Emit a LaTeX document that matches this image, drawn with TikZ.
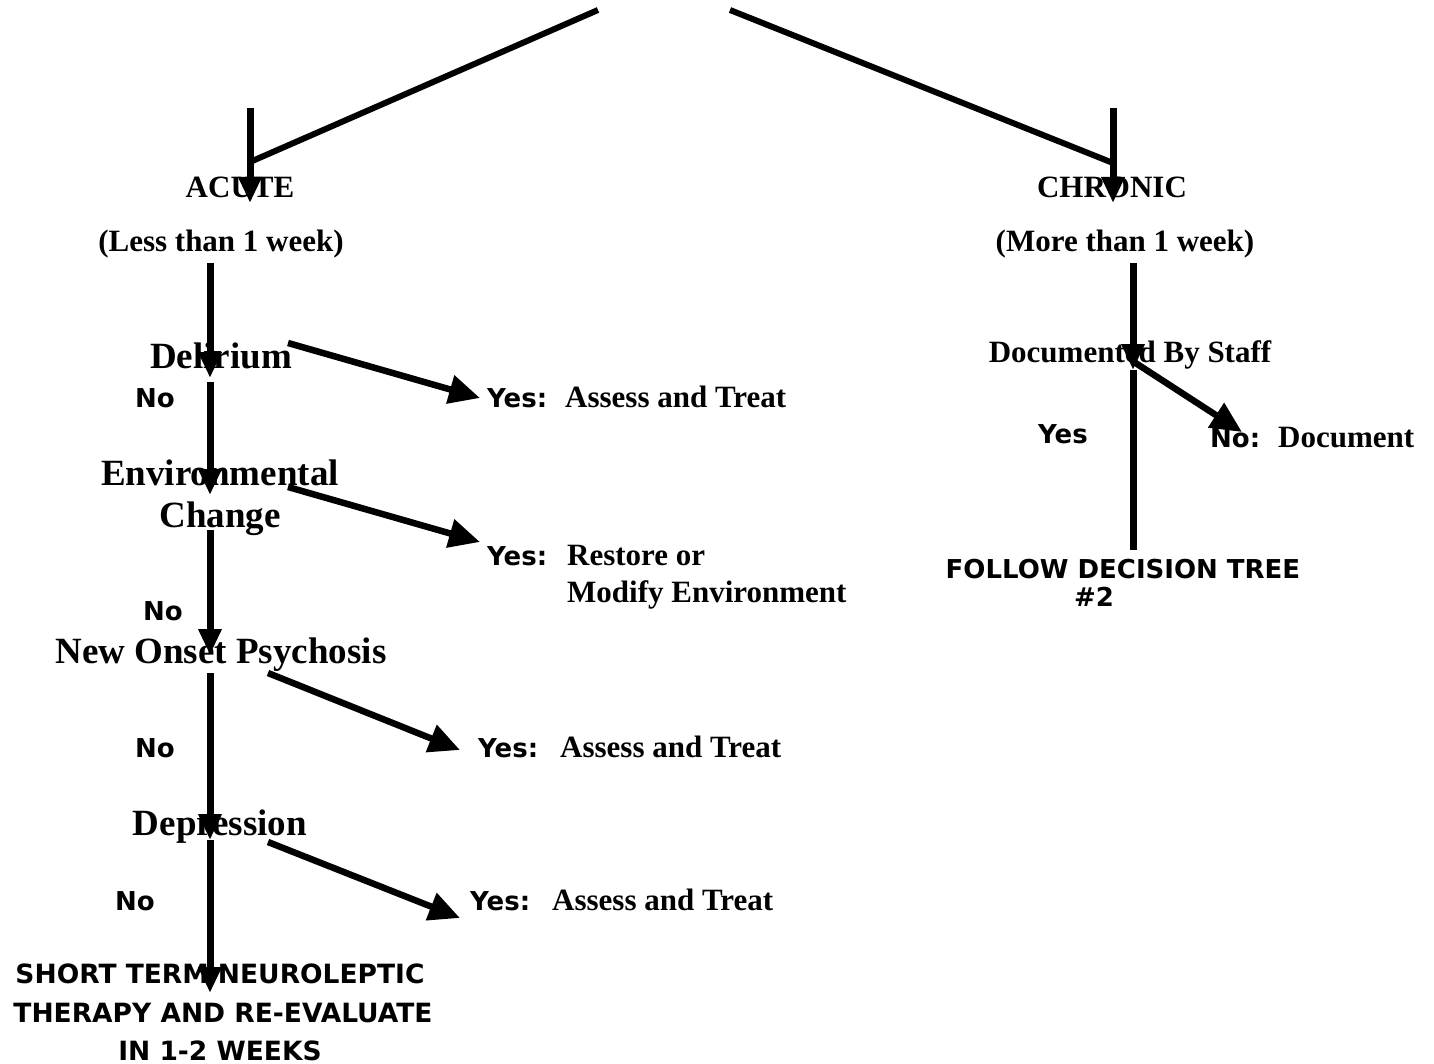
\documentclass[tikz,border=0pt]{standalone}
\usepackage{fontspec}
\setmainfont{Liberation Serif}
\newfontfamily\sansb{DejaVu Sans}
\usetikzlibrary{arrows.meta}
\newcommand\sanslab{\sansb\bfseries\fontsize{26}{29}\selectfont}
\begin{document}
\begin{tikzpicture}[x=1pt,y=-1pt,
  big/.style={font=\bfseries\fontsize{37}{40}\selectfont, inner sep=0pt},
  mid/.style={font=\bfseries\fontsize{31}{34}\selectfont, inner sep=0pt},
  lab/.style={font=\sanslab, inner sep=0pt},
  plain/.style={line width=7pt},
  varrow/.style={line width=7pt, -{Triangle[length=26pt,width=22pt]}},
  darrow/.style={line width=6.5pt, -{Triangle[length=31pt,width=28pt]}},
  dline/.style={line width=6pt}
]
\fill[white] (0,0) rectangle (1434,1064);
\useasboundingbox (0,0) rectangle (1434,1064);

% ---------- texts ----------
\node[mid, anchor=base] (acute) at (240,198) {ACUTE};
\node[mid, anchor=base] (less) at (221,252) {(Less than 1 week)};
\node[mid, anchor=base] (chronic) at (1112,198) {CHRONIC};
\node[mid, anchor=base] (more) at (1125,252) {(More than 1 week)};

\node[big, anchor=base] (delirium) at (221,368) {Delirium};
\node[big, anchor=base] (env1) at (220,485) {Environmental};
\node[big, anchor=base] (env2) at (220,527) {Change};
\node[big, anchor=base] (psych) at (221,663) {New Onset Psychosis};
\node[big, anchor=base] (depr) at (220,835) {Depression};

\node[lab, anchor=base] (no1) at (155,407) {No};
\node[lab, anchor=base] (no2) at (163,620) {No};
\node[lab, anchor=base] (no3) at (155,757) {No};
\node[lab, anchor=base] (no4) at (135,910) {No};

\node[mid, anchor=base west] (yes1) at (487,407) {\makebox[78pt][l]{\sanslab Yes:}Assess and Treat};
\node[mid, anchor=base west] (yes2) at (487,565) {\makebox[80pt][l]{\sanslab Yes:}Restore or};
\node[mid, anchor=base west] (yes2b) at (567,602) {Modify Environment};
\node[mid, anchor=base west] (yes3) at (478,757) {\makebox[82pt][l]{\sanslab Yes:}Assess and Treat};
\node[mid, anchor=base west] (yes4) at (470,910) {\makebox[82pt][l]{\sanslab Yes:}Assess and Treat};

\node[lab, anchor=base, font=\sansb\bfseries\fontsize{26.5}{29}\selectfont] (st1) at (220,983) {SHORT TERM NEUROLEPTIC};
\node[lab, anchor=base, font=\sansb\bfseries\fontsize{26.5}{29}\selectfont] (st2) at (223,1022) {THERAPY AND RE-EVALUATE};
\node[lab, anchor=base, font=\sansb\bfseries\fontsize{26.5}{29}\selectfont] (st3) at (220,1060) {IN 1-2 WEEKS};

\node[mid, anchor=base] (doc) at (1130,362) {Documented By Staff};
\node[lab, anchor=base] (yesr) at (1063,443) {Yes};
\node[mid, anchor=base west] (nor) at (1210,447) {\makebox[68pt][l]{\sanslab No:}Document};
\node[lab, anchor=base] (fol1) at (1123,578) {FOLLOW DECISION TREE};
\node[lab, anchor=base] (fol2) at (1094,606) {\#2};

% ---------- coordinates ----------
\coordinate (topL) at (598,10);
\coordinate (topR) at (730,10);
\coordinate (jL) at (250,162);
\coordinate (jR) at (1113,163);
\coordinate (aS) at (250,108);
\coordinate (aT) at (250,203);
\coordinate (cS) at (1113,108);
\coordinate (cT) at (1113,203);

\coordinate (m0) at (210,263);
\coordinate (m1) at (210,378);
\coordinate (m1b) at (210,382);
\coordinate (m2) at (210,495);
\coordinate (m2b) at (210,530);
\coordinate (m3) at (210,655);
\coordinate (m3b) at (210,673);
\coordinate (m4) at (210,840);
\coordinate (m5) at (210,993);

\coordinate (y1s) at (288,343);
\coordinate (y1t) at (480,398);
\coordinate (y2s) at (288,487);
\coordinate (y2t) at (480,542);
\coordinate (y3s) at (268,673);
\coordinate (y3t) at (460,750);
\coordinate (y4s) at (268,842);
\coordinate (y4t) at (460,918);

\coordinate (r0) at (1133,263);
\coordinate (r1) at (1133,370);
\coordinate (r2) at (1133,550);
\coordinate (rdS) at (1134,362);
\coordinate (rdT) at (1242,432);

% ---------- connectors ----------
\draw[dline] (topL) -- (jL);
\draw[dline] (topR) -- (jR);
\draw[varrow] (aS) -- (aT);
\draw[varrow] (cS) -- (cT);

\draw[varrow] (m0) -- (m1);
\draw[varrow] (m1b) -- (m2);
\draw[varrow] (m2b) -- (m3);
\draw[varrow] (m3b) -- (m4);
\draw[varrow] (m4) -- (m5);

\draw[darrow] (y1s) -- (y1t);
\draw[darrow] (y2s) -- (y2t);
\draw[darrow] (y3s) -- (y3t);
\draw[darrow] (y4s) -- (y4t);

\draw[plain] (r1) -- (r2);
\draw[varrow] (r0) -- (r1);
\draw[darrow] (rdS) -- (rdT);
\end{tikzpicture}
\end{document}
